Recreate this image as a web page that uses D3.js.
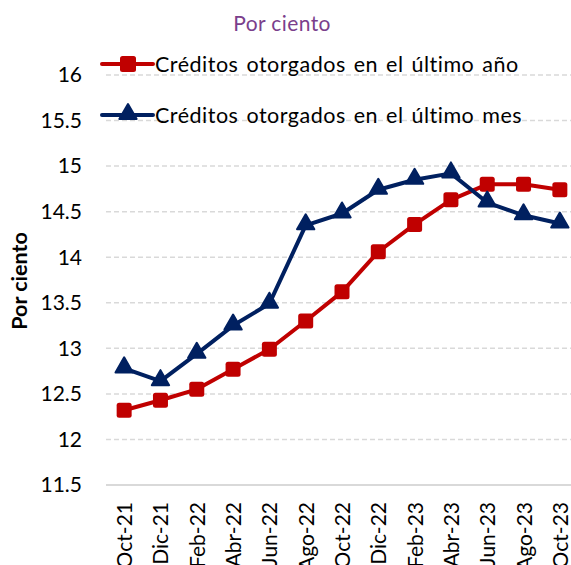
<!DOCTYPE html>
<html>

<head>
  <meta charset="utf-8">
  <script src="https://d3js.org/d3.v7.min.js"></script>
</head>
<style>
  body {
    margin: 0;
    background: #fff;
  }

  svg {
    font-family: Lato, Carlito, Calibri, sans-serif;
  }

  .grid line {
    stroke: #d9d9d9;
    stroke-width: 1.5px;
    stroke-dasharray: 5 3;
  }

  .tick-label {
    font-size: 21px;
    fill: #000;
  }
</style>

<body>
  <svg id="chart" width="571" height="565"></svg>
  <script>
    // data
    const months = ["Oct-21", "Dic-21", "Feb-22", "Abr-22", "Jun-22", "Ago-22", "Oct-22",
      "Dic-22", "Feb-23", "Abr-23", "Jun-23", "Ago-23", "Oct-23"];
    const ultimoAnio = [12.32, 12.43, 12.55, 12.77, 12.99, 13.30, 13.62, 14.06, 14.36, 14.63, 14.80, 14.80, 14.74];
    const ultimoMes = [12.78, 12.64, 12.94, 13.25, 13.49, 14.35, 14.48, 14.74, 14.85, 14.92, 14.60, 14.46, 14.37];
    const yTicks = [11.5, 12, 12.5, 13, 13.5, 14, 14.5, 15, 15.5, 16];
    const seriesNames = ["Créditos otorgados en el último año", "Créditos otorgados en el último mes"];

    const red = "#c00000", navy = "#002060";
    const svg = d3.select("#chart");

    const plotLeft = 106, plotRight = 578, plotTop = 75, plotBottom = 485;

    const x = d3.scaleBand().domain(months).range([plotLeft, plotRight]);
    const y = d3.scaleLinear().domain([11.5, 16]).range([plotBottom, plotTop]);

    // gridlines (dashed), base line solid
    const grid = svg.append("g").attr("class", "grid");
    grid.selectAll("line")
      .data(yTicks.filter(d => d > 11.5))
      .join("line")
      .attr("x1", plotLeft).attr("x2", 571)
      .attr("y1", d => y(d)).attr("y2", d => y(d));

    svg.append("line")
      .attr("x1", plotLeft).attr("x2", 571)
      .attr("y1", y(11.5)).attr("y2", y(11.5))
      .attr("stroke", "#d9d9d9").attr("stroke-width", 2);

    // y tick labels
    svg.append("g").selectAll("text")
      .data(yTicks)
      .join("text")
      .attr("class", "tick-label")
      .attr("x", 82)
      .attr("y", d => y(d))
      .attr("dy", "0.35em")
      .attr("text-anchor", "end")
      .text(d => d);

    // x tick labels, rotated
    svg.append("g").selectAll("text")
      .data(months)
      .join("text")
      .attr("class", "tick-label")
      .attr("transform", d => `translate(${x(d) + x.bandwidth() / 2 + 8},502) rotate(-90)`)
      .attr("text-anchor", "end")
      .text(d => d);

    // titles
    svg.append("text")
      .attr("x", 282).attr("y", 31)
      .attr("text-anchor", "middle")
      .attr("font-size", 21)
      .attr("letter-spacing", 0.4)
      .attr("fill", "#7b3f8c")
      .text("Por ciento");

    svg.append("text")
      .attr("transform", "translate(27,281) rotate(-90)")
      .attr("text-anchor", "middle")
      .attr("font-size", 21.5)
      .attr("font-weight", "bold")
      .text("Por ciento");

    const line = d3.line()
      .x((d, i) => x(months[i]) + x.bandwidth() / 2)
      .y(d => y(d));

    const tri = d3.symbol().type(d3.symbolTriangle).size(130);

    function drawSeries(values, color, marker) {
      svg.append("path")
        .datum(values)
        .attr("d", line)
        .attr("fill", "none")
        .attr("stroke", color)
        .attr("stroke-width", 4)
        .attr("stroke-linejoin", "round");
      const g = svg.append("g");
      values.forEach((v, i) => {
        const cx = x(months[i]) + x.bandwidth() / 2, cy = y(v);
        if (marker === "square") {
          g.append("rect")
            .attr("x", cx - 7.5).attr("y", cy - 7.5)
            .attr("width", 15).attr("height", 15)
            .attr("rx", 2.5)
            .attr("fill", color);
        } else {
          g.append("path")
            .attr("d", tri)
            .attr("transform", `translate(${cx},${cy - 1})`)
            .attr("fill", color)
            .attr("stroke", color)
            .attr("stroke-width", 2)
            .attr("stroke-linejoin", "round");
        }
      });
    }

    drawSeries(ultimoAnio, red, "square");
    drawSeries(ultimoMes, navy, "triangle");

    // legend
    const legend = [
      { name: seriesNames[0], color: red, marker: "square", y: 64 },
      { name: seriesNames[1], color: navy, marker: "triangle", y: 115 }
    ];
    legend.forEach(l => {
      svg.append("line")
        .attr("x1", 102).attr("x2", 153)
        .attr("y1", l.y).attr("y2", l.y)
        .attr("stroke", l.color).attr("stroke-width", 4)
        .attr("stroke-linecap", "round");
      if (l.marker === "square") {
        svg.append("rect")
          .attr("x", 120).attr("y", l.y - 8)
          .attr("width", 16).attr("height", 16)
          .attr("rx", 2.5).attr("fill", l.color);
      } else {
        svg.append("path")
          .attr("d", tri)
          .attr("transform", `translate(128,${l.y - 1})`)
          .attr("fill", l.color)
          .attr("stroke", l.color).attr("stroke-width", 2)
          .attr("stroke-linejoin", "round");
      }
      svg.append("text")
        .attr("x", 155).attr("y", l.y)
        .attr("dy", "0.35em")
        .attr("font-size", 21.5)
        .attr("letter-spacing", 0.5)
        .attr("word-spacing", 2)
        .text(l.name);
    });
  </script>
</body>

</html>
